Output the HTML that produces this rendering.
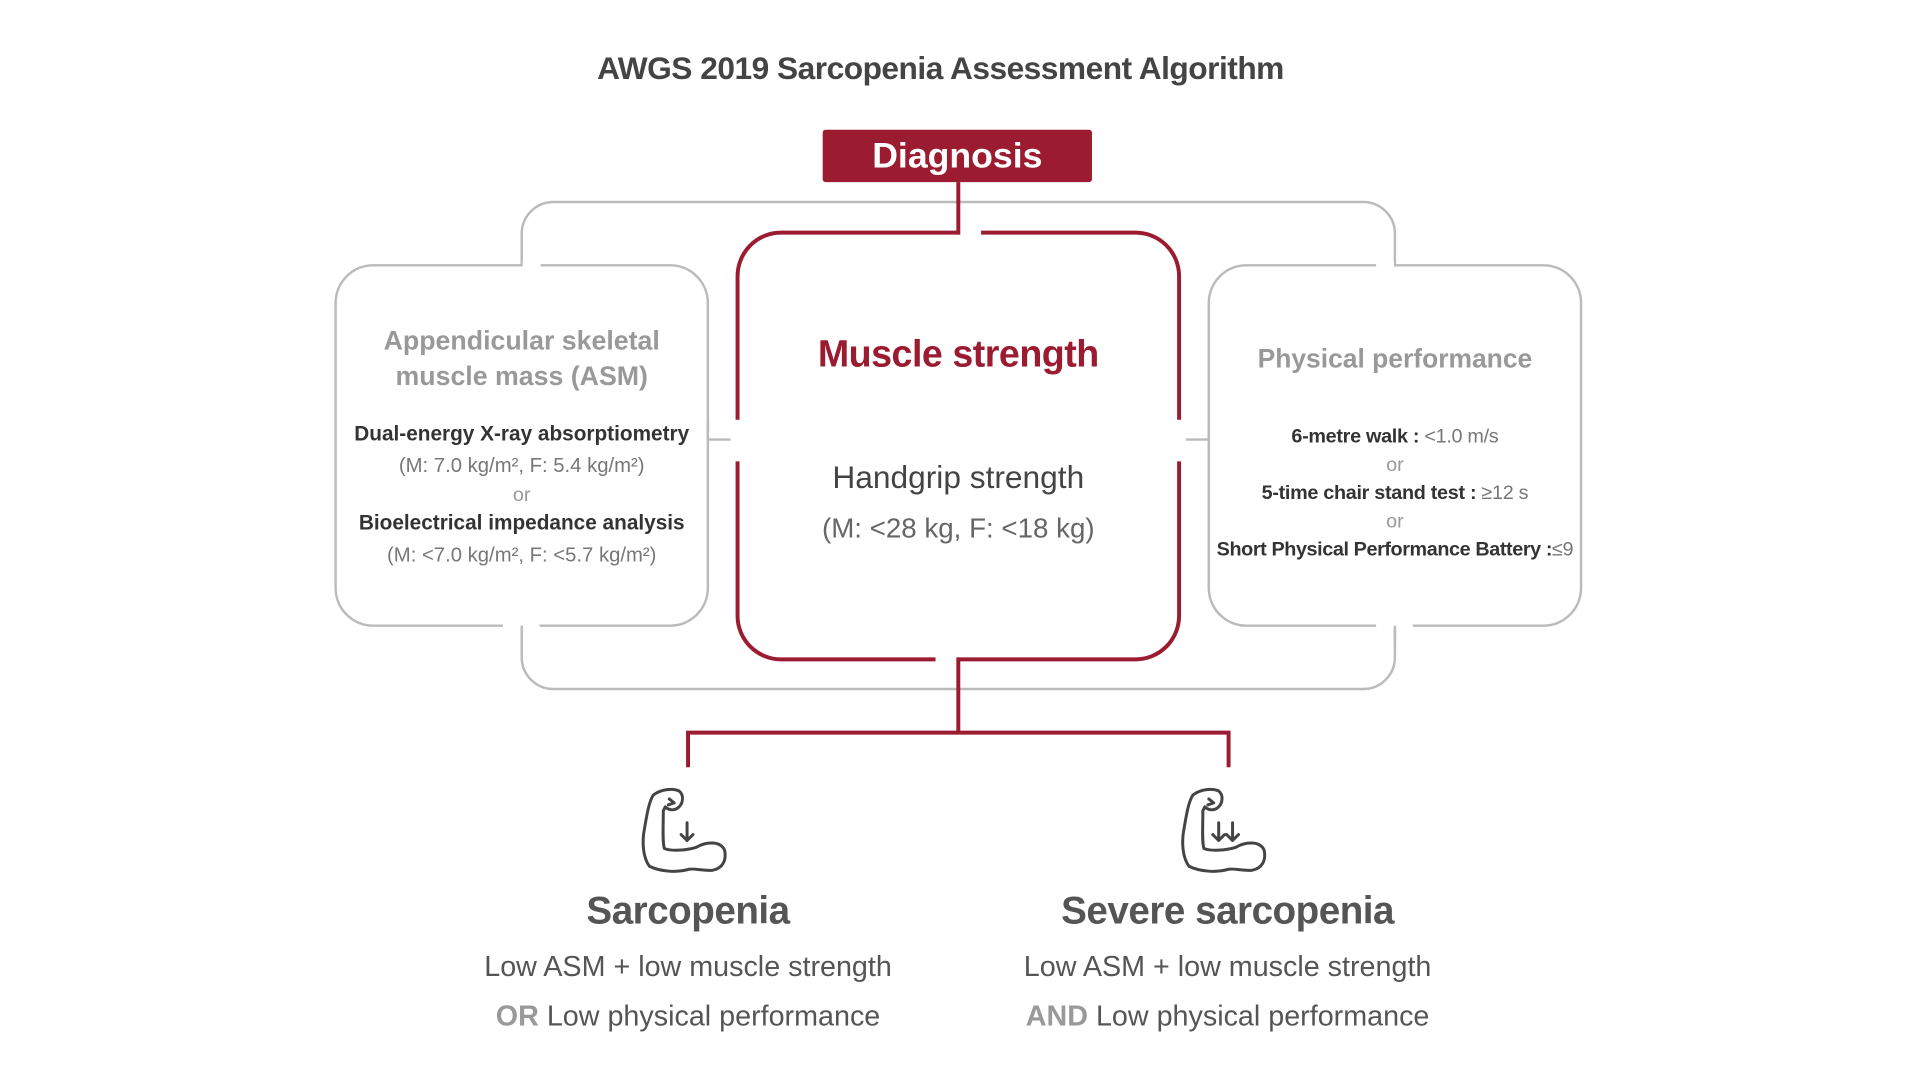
<!DOCTYPE html>
<html><head><meta charset="utf-8"><style>
html,body{margin:0;padding:0;background:#fff;}
svg{display:block;}
text{font-family:"Liberation Sans",sans-serif;}
</style></head><body>
<svg width="1920" height="1080" viewBox="0 0 1920 1080" xmlns="http://www.w3.org/2000/svg">
<g transform="scale(0.99)">
<text x="950" y="80" text-anchor="middle" font-size="32" font-weight="bold" fill="#444" letter-spacing="-0.5">AWGS 2019 Sarcopenia Assessment Algorithm</text>

<rect x="527" y="204" width="882" height="492" rx="32" fill="none" stroke="#bbb" stroke-width="2.5"/>
<rect x="339" y="268" width="376" height="364" rx="38" fill="#fff" stroke="#bbb" stroke-width="2.5"/>
<rect x="1221" y="268" width="376" height="364" rx="38" fill="#fff" stroke="#bbb" stroke-width="2.5"/>
<rect x="528" y="264" width="18" height="8" fill="#fff"/>
<rect x="1390" y="264" width="18" height="8" fill="#fff"/>
<rect x="508" y="628" width="37" height="8" fill="#fff"/>
<rect x="1390" y="628" width="37" height="8" fill="#fff"/>
<line x1="527" y1="632" x2="527" y2="650" stroke="#bbb" stroke-width="2.5"/>
<line x1="1409" y1="632" x2="1409" y2="650" stroke="#bbb" stroke-width="2.5"/>
<polyline points="715,425 715,444 745,444" fill="none" stroke="#bbb" stroke-width="2.5"/>
<polyline points="1221,425 1221,444 1191,444" fill="none" stroke="#bbb" stroke-width="2.5"/>

<rect x="745" y="235" width="446" height="431" rx="44" fill="#fff" stroke="#9b1b30" stroke-width="4"/>
<rect x="969" y="228" width="22" height="14" fill="#fff"/>
<rect x="738" y="424" width="14" height="42" fill="#fff"/>
<rect x="1184" y="424" width="14" height="42" fill="#fff"/>
<rect x="945" y="660" width="22" height="14" fill="#fff"/>

<rect x="831" y="131" width="272" height="53" rx="3" fill="#9b1b30"/>
<text x="967" y="169" text-anchor="middle" font-size="36" font-weight="bold" fill="#fff">Diagnosis</text>
<line x1="968" y1="184" x2="968" y2="237" stroke="#9b1b30" stroke-width="4"/>
<line x1="968" y1="664" x2="968" y2="740" stroke="#9b1b30" stroke-width="4"/>
<polyline points="695,775 695,740 1241,740 1241,775" fill="none" stroke="#9b1b30" stroke-width="4"/>

<text x="968" y="370" text-anchor="middle" font-size="38" font-weight="bold" fill="#9b1b30" letter-spacing="-0.5">Muscle strength</text>
<text x="968" y="493" text-anchor="middle" font-size="32" fill="#444">Handgrip strength</text>
<text x="968" y="543" text-anchor="middle" font-size="28" fill="#666">(M: &lt;28 kg, F: &lt;18 kg)</text>

<text x="527" y="353" text-anchor="middle" font-size="27" font-weight="bold" fill="#999">Appendicular skeletal</text>
<text x="527" y="389" text-anchor="middle" font-size="27" font-weight="bold" fill="#999">muscle mass (ASM)</text>
<text x="527" y="445" text-anchor="middle" font-size="21" font-weight="bold" fill="#333">Dual-energy X-ray absorptiometry</text>
<text x="527" y="477" text-anchor="middle" font-size="20.5" fill="#777">(M: 7.0 kg/m², F: 5.4 kg/m²)</text>
<text x="527" y="506" text-anchor="middle" font-size="20" fill="#999">or</text>
<text x="527" y="535" text-anchor="middle" font-size="21" font-weight="bold" fill="#333">Bioelectrical impedance analysis</text>
<text x="527" y="567" text-anchor="middle" font-size="20.5" fill="#777">(M: &lt;7.0 kg/m², F: &lt;5.7 kg/m²)</text>

<text x="1409" y="371" text-anchor="middle" font-size="26.7" font-weight="bold" fill="#999">Physical performance</text>
<text x="1409" y="447" text-anchor="middle" font-size="20" fill="#333" letter-spacing="-0.3"><tspan font-weight="bold">6-metre walk :</tspan><tspan fill="#777"> &lt;1.0 m/s</tspan></text>
<text x="1409" y="476" text-anchor="middle" font-size="20" fill="#999">or</text>
<text x="1409" y="504" text-anchor="middle" font-size="20" fill="#333" letter-spacing="-0.3"><tspan font-weight="bold">5-time chair stand test :</tspan><tspan fill="#777"> ≥12 s</tspan></text>
<text x="1409" y="533" text-anchor="middle" font-size="20" fill="#999">or</text>
<text x="1409" y="561" text-anchor="middle" font-size="20" fill="#333" letter-spacing="-0.4"><tspan font-weight="bold">Short Physical Performance Battery :</tspan><tspan fill="#777">≤9</tspan></text>

<g fill="none" stroke="#444" stroke-width="3" stroke-linejoin="round" stroke-linecap="round">
 <g transform="translate(648,797)">
  <path d="M8,78 C2,70 0,55 3,40 C6,22 8,12 12,6 C20,0 32,-1 38,2 C43,6 42,14 38,18 C34,22 28,22 24,18 L22,22 C22,40 21,52 23,60 C30,63 45,62 55,59 C65,53 80,52 84,62 C86,72 82,80 72,82 C62,83 55,80 48,81 C35,85 18,83 8,78 Z"/>
  <path d="M28,10 L33,14 L27,16"/>
  <path d="M46,34 L46,52 M40,46 L46,52 L52,46"/>
 </g>
 <g transform="translate(1193,797)">
  <path d="M8,78 C2,70 0,55 3,40 C6,22 8,12 12,6 C20,0 32,-1 38,2 C43,6 42,14 38,18 C34,22 28,22 24,18 L22,22 C22,40 21,52 23,60 C30,63 45,62 55,59 C65,53 80,52 84,62 C86,72 82,80 72,82 C62,83 55,80 48,81 C35,85 18,83 8,78 Z"/>
  <path d="M28,10 L33,14 L27,16"/>
  <path d="M38,34 L38,52 M32,46 L38,52 L44,46"/>
  <path d="M52,34 L52,52 M46,46 L52,52 L58,46"/>
 </g>
</g>

<text x="695" y="933" text-anchor="middle" font-size="39" font-weight="bold" fill="#555" letter-spacing="-0.5">Sarcopenia</text>
<text x="695" y="986" text-anchor="middle" font-size="29" fill="#555">Low ASM + low muscle strength</text>
<text x="695" y="1036" text-anchor="middle" font-size="29" fill="#555"><tspan font-weight="bold" fill="#999">OR</tspan> Low physical performance</text>

<text x="1240" y="933" text-anchor="middle" font-size="39" font-weight="bold" fill="#555" letter-spacing="-0.5">Severe sarcopenia</text>
<text x="1240" y="986" text-anchor="middle" font-size="29" fill="#555">Low ASM + low muscle strength</text>
<text x="1240" y="1036" text-anchor="middle" font-size="29" fill="#555"><tspan font-weight="bold" fill="#999">AND</tspan> Low physical performance</text>
</g>
</svg>
</body></html>
